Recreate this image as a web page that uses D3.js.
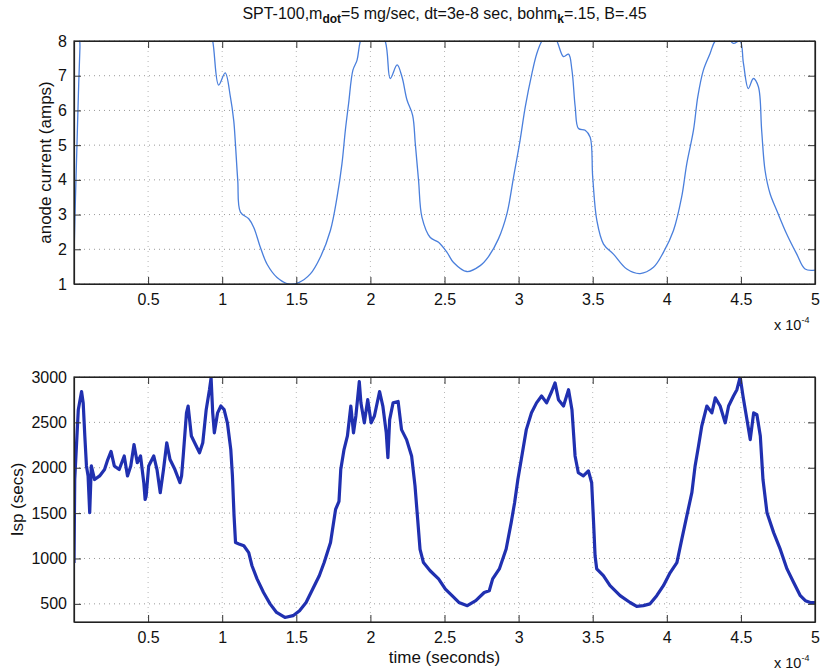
<!DOCTYPE html>
<html>
<head>
<meta charset="utf-8">
<script src="https://cdn.jsdelivr.net/npm/d3@7"></script>
<style>
  body { margin: 0; background: #fff; }
  text { font-family: "Liberation Sans", Arial, sans-serif; fill: #111; }
</style>
</head>
<body>
<div id="chart"></div>
<script>
// time in units of 1e-4 seconds
var currentTime = [0, 0.01, 0.02, 0.03, 0.04, 0.05, 0.3, 0.6, 0.9, 0.936, 0.976, 1.02, 1.055, 1.078, 1.089, 1.105, 1.123,
  1.179, 1.213, 1.258, 1.303, 1.37, 1.449, 1.516, 1.595, 1.662, 1.73, 1.775, 1.808, 1.831, 1.853, 1.882, 1.91, 1.932,
  2.0, 2.1, 2.134, 2.18, 2.213, 2.247, 2.285, 2.303, 2.325, 2.348, 2.404, 2.46, 2.517, 2.561, 2.651, 2.741, 2.797,
  2.864, 2.921, 2.966, 3.01, 3.045, 3.09, 3.123, 3.157, 3.21, 3.258, 3.303, 3.337, 3.36, 3.382, 3.404, 3.449, 3.483,
  3.5, 3.528, 3.573, 3.64, 3.73, 3.82, 3.91, 3.977, 4.045, 4.1, 4.135, 4.18, 4.209, 4.247, 4.292, 4.326, 4.39, 4.449,
  4.494, 4.517, 4.55, 4.584, 4.618, 4.64, 4.663, 4.697, 4.742, 4.809, 4.877, 4.933, 5.0];
var anodeCurrent = [1.8, 3.5, 5.0, 6.5, 7.8, 8.6, 9.5, 9.5, 8.6, 8.0, 6.73, 7.08, 6.4, 5.7, 5.05, 3.98, 3.07,
  2.88, 2.63, 2.05, 1.57, 1.19, 1.0, 1.04, 1.29, 1.77, 2.54, 3.5, 4.46, 5.43, 6.2, 7.16, 7.45, 8.0,
  8.8, 8.0, 6.92, 7.31, 6.97, 6.3, 5.86, 5.04, 3.98, 2.92, 2.34, 2.2, 1.91, 1.62, 1.36, 1.53, 1.79,
  2.3, 3.02, 4.08, 5.14, 6.1, 7.07, 7.64, 8.0, 8.3, 8.0, 7.55, 7.62, 7.16, 6.1, 5.48, 5.43, 5.23,
  4.08, 2.83, 2.15, 1.86, 1.43, 1.3, 1.48, 1.91, 2.54, 3.5, 4.47, 5.43, 6.39, 7.16, 7.64, 8.0, 8.2, 7.93,
  8.0, 7.36, 6.63, 6.92, 6.68, 5.43, 4.27, 3.6, 3.12, 2.44, 1.86, 1.43, 1.4];

var ispTime = [0, 0.005, 0.029, 0.051, 0.062, 0.073, 0.084, 0.095, 0.106, 0.117, 0.139, 0.173, 0.206, 0.228, 0.25,
  0.272, 0.305, 0.339, 0.361, 0.383, 0.405, 0.427, 0.449, 0.471, 0.48, 0.487, 0.504, 0.538, 0.56, 0.582, 0.604,
  0.626, 0.648, 0.681, 0.715, 0.726, 0.737, 0.759, 0.77, 0.792, 0.814, 0.847, 0.869, 0.892, 0.914, 0.925, 0.936,
  0.947, 0.969, 0.991, 1.013, 1.035, 1.058, 1.069, 1.08, 1.09, 1.113, 1.146, 1.179, 1.201, 1.235, 1.279, 1.323,
  1.367, 1.423, 1.478, 1.522, 1.566, 1.61, 1.655, 1.688, 1.731, 1.765, 1.788, 1.8, 1.822, 1.845, 1.868, 1.886,
  1.902, 1.925, 1.936, 1.959, 1.982, 2.005, 2.027, 2.062, 2.084, 2.107, 2.118, 2.13, 2.153, 2.187, 2.21, 2.244,
  2.278, 2.301, 2.319, 2.335, 2.358, 2.403, 2.46, 2.506, 2.551, 2.597, 2.654, 2.711, 2.768, 2.802, 2.825, 2.87,
  2.916, 2.95, 2.973, 2.995, 3.018, 3.052, 3.087, 3.121, 3.155, 3.189, 3.223, 3.246, 3.269, 3.303, 3.337, 3.36,
  3.381, 3.403, 3.437, 3.471, 3.493, 3.505, 3.516, 3.527, 3.572, 3.617, 3.685, 3.752, 3.797, 3.842, 3.887, 3.932,
  3.977, 4.023, 4.068, 4.101, 4.135, 4.169, 4.191, 4.214, 4.236, 4.27, 4.304, 4.327, 4.36, 4.394, 4.417, 4.45,
  4.473, 4.495, 4.514, 4.541, 4.563, 4.586, 4.608, 4.631, 4.649, 4.676, 4.721, 4.766, 4.811, 4.856, 4.901, 4.935,
  4.968, 5.0];
var isp = [950, 1870, 2640, 2840, 2715, 2350, 2020, 1910, 1505, 2020, 1870, 1910, 1980, 2090, 2180,
  2020, 1980, 2130, 1910, 2020, 2255, 2055, 2130, 1835, 1650, 1690, 2020, 2130, 1980, 1725, 1980,
  2275, 2090, 1980, 1835, 1910, 2130, 2605, 2680, 2350, 2275, 2165, 2275, 2640, 2860, 2990, 2605,
  2385, 2605, 2680, 2640, 2495, 2200, 1910, 1470, 1175, 1160, 1140, 1065, 920, 775, 625, 500,
  405, 350, 370, 425, 515, 660, 810, 955, 1175, 1540, 1630, 1980, 2200, 2350, 2680, 2385,
  2570, 2950, 2715, 2495, 2750, 2495, 2570, 2840, 2680, 2385, 2110, 2530, 2715, 2730, 2420, 2310,
  2130, 1800, 1430, 1100, 955, 865, 775, 663, 590, 515, 480, 535, 625, 645, 775, 885,
  1105, 1395, 1615, 1870, 2090, 2420, 2605, 2715, 2790, 2715, 2840, 2935, 2750, 2680, 2860, 2640,
  2130, 1945, 1910, 1965, 1835, 1430, 1030, 885, 810, 700, 590, 515, 473, 480, 500, 590,
  700, 845, 955, 1210, 1470, 1725, 2020, 2240, 2460, 2680, 2605, 2770, 2680, 2495, 2680, 2790,
  2860, 3000, 2790, 2530, 2310, 2605, 2585, 2350, 1870, 1505, 1285, 1100, 885, 735, 590, 535,
  515, 515];

var xTicks = [0.5, 1, 1.5, 2, 2.5, 3, 3.5, 4, 4.5, 5];
var currentTicks = [1, 2, 3, 4, 5, 6, 7, 8];
var ispTicks = [500, 1000, 1500, 2000, 2500, 3000];

var width = 821, height = 671;
var left = 74, right = 815;

var svg = d3.select("#chart").append("svg")
  .attr("width", width)
  .attr("height", height);

function drawPanel(id, top, bottom, xs, ys, yDomain, yTicks, color, strokeW, curve) {
  var x = d3.scaleLinear().domain([0, 5]).range([left, right]);
  var y = d3.scaleLinear().domain(yDomain).range([bottom, top]);
  var g = svg.append("g");

  g.append("clipPath").attr("id", id)
    .append("rect")
    .attr("x", left).attr("y", top)
    .attr("width", right - left).attr("height", bottom - top);

  // dotted grid
  g.selectAll(".gx").data(xTicks.slice(0, -1)).enter().append("line")
    .attr("x1", function(d) { return x(d); }).attr("x2", function(d) { return x(d); })
    .attr("y1", top).attr("y2", bottom)
    .attr("stroke", "#b8b8b8").attr("stroke-width", 1)
    .attr("stroke-dasharray", "1,4");
  g.selectAll(".gy").data(yTicks).enter().append("line")
    .attr("x1", left).attr("x2", right)
    .attr("y1", function(d) { return y(d); }).attr("y2", function(d) { return y(d); })
    .attr("stroke", "#999").attr("stroke-width", 1)
    .attr("stroke-dasharray", "1,4");

  var line = d3.line()
    .curve(curve)
    .x(function(d) { return x(d[0]); })
    .y(function(d) { return y(d[1]); });

  g.append("path")
    .datum(d3.zip(xs, ys))
    .attr("clip-path", "url(#" + id + ")")
    .attr("fill", "none")
    .attr("stroke", color)
    .attr("stroke-width", strokeW)
    .attr("stroke-linejoin", "round")
    .attr("d", line);

  // axes with inward ticks, box style
  g.append("g").attr("transform", "translate(0," + bottom + ")")
    .call(d3.axisBottom(x).tickValues(xTicks).tickSizeInner(-7).tickSizeOuter(0).tickPadding(10)
      .tickFormat(d3.format("")));
  g.append("g").attr("transform", "translate(0," + top + ")")
    .call(d3.axisTop(x).tickValues(xTicks).tickSizeInner(-7).tickSizeOuter(0).tickFormat(""));
  g.append("g").attr("transform", "translate(" + left + ",0)")
    .call(d3.axisLeft(y).tickValues(yTicks).tickSizeInner(-7).tickSizeOuter(0).tickPadding(7)
      .tickFormat(d3.format("d")));
  g.append("g").attr("transform", "translate(" + right + ",0)")
    .call(d3.axisRight(y).tickValues(yTicks).tickSizeInner(-7).tickSizeOuter(0).tickFormat(""));

  g.selectAll(".domain").attr("stroke", "#222").attr("stroke-width", 1.2);
  g.selectAll(".tick line").attr("stroke", "#333");
  g.selectAll(".tick text").style("font-size", "16px").style("font-family", "'Liberation Sans', Arial, sans-serif")
    .attr("fill", "#111");

  g.append("rect")
    .attr("x", left).attr("y", top)
    .attr("width", right - left).attr("height", bottom - top)
    .attr("fill", "none").attr("stroke", "#222").attr("stroke-width", 1.2);

  // x 10^-4 multiplier
  var mult = g.append("text")
    .attr("x", 774).attr("y", bottom + 46)
    .style("font-size", "14.5px");
  mult.append("tspan").text("x 10");
  mult.append("tspan").attr("dy", -7).style("font-size", "9px").text("-4");

  return g;
}

drawPanel("clipTop", 41, 284, currentTime, anodeCurrent, [1, 8], currentTicks, "#4a7fdc", 1.3, d3.curveCatmullRom);
drawPanel("clipBot", 377, 622, ispTime, isp, [300, 3000], ispTicks, "#2030b0", 3.2, d3.curveLinear);

// title
var title = svg.append("text")
  .attr("x", (left + right) / 2).attr("y", 19)
  .attr("text-anchor", "middle")
  .style("font-size", "16px");
title.append("tspan").text("SPT-100,m");
title.append("tspan").attr("dy", 4).style("font-size", "12px").style("font-weight", "bold").text("dot");
title.append("tspan").attr("dy", -4).text("=5 mg/sec, dt=3e-8 sec, bohm");
title.append("tspan").attr("dy", 4).style("font-size", "12px").style("font-weight", "bold").text("k");
title.append("tspan").attr("dy", -4).text("=.15, B=.45");

svg.append("text")
  .attr("transform", "translate(51," + (41 + 284) / 2 + ") rotate(-90)")
  .attr("text-anchor", "middle")
  .style("font-size", "17px")
  .text("anode current (amps)");

svg.append("text")
  .attr("transform", "translate(23," + (377 + 622) / 2 + ") rotate(-90)")
  .attr("text-anchor", "middle")
  .style("font-size", "17px")
  .text("Isp (secs)");

svg.append("text")
  .attr("x", (left + right) / 2).attr("y", 663)
  .attr("text-anchor", "middle")
  .style("font-size", "17px")
  .text("time (seconds)");
</script>
</body>
</html>
